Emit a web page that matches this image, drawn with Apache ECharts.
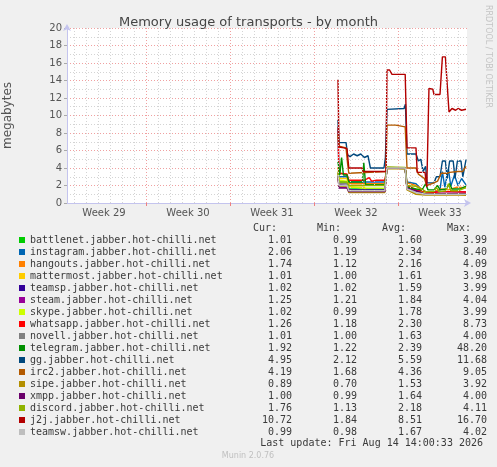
<!DOCTYPE html>
<html>
<head>
<meta charset="utf-8">
<title>Memory usage of transports - by month</title>
<script src="https://cdn.jsdelivr.net/npm/echarts@6/dist/echarts.min.js"></script>
<style>
  html, body { margin: 0; padding: 0; background: #f0f0f0; }
  #chart { width: 497px; height: 467px; }
</style>
</head>
<body>
<div id="chart"></div>
<script>
// x axis counts days, day 0 = start of week 29
const weekLabels = ['Week 29', 'Week 30', 'Week 31', 'Week 32', 'Week 33']
const weekCenters = [3.5, 10.5, 17.5, 24.5, 31.5]
const weekStarts = [7, 14, 21, 28]
const dayLines = [1, 2, 3, 4, 5, 6, 8, 9, 10, 11, 12, 13, 15, 16, 17, 18, 19, 20,
  22, 23, 24, 25, 26, 27, 29, 30, 31, 32, 33]

const names = [
  'battlenet.jabber.hot-chilli.net', 'instagram.jabber.hot-chilli.net',
  'hangouts.jabber.hot-chilli.net', 'mattermost.jabber.hot-chilli.net',
  'teamsp.jabber.hot-chilli.net', 'steam.jabber.hot-chilli.net',
  'skype.jabber.hot-chilli.net', 'whatsapp.jabber.hot-chilli.net',
  'novell.jabber.hot-chilli.net', 'telegram.jabber.hot-chilli.net',
  'gg.jabber.hot-chilli.net', 'irc2.jabber.hot-chilli.net',
  'sipe.jabber.hot-chilli.net', 'xmpp.jabber.hot-chilli.net',
  'discord.jabber.hot-chilli.net', 'j2j.jabber.hot-chilli.net',
  'teamsw.jabber.hot-chilli.net'
]
const colors = ['#00CC00', '#0066B3', '#FF8000', '#FFCC00', '#330099', '#990099',
  '#CCFF00', '#FF0000', '#808080', '#008F00', '#00487D', '#B35A00', '#B38F00',
  '#6B006B', '#8FB300', '#B30000', '#BEBEBE']

// legend table values
const curVals = ['1.01', '2.06', '1.74', '1.01', '1.02', '1.25', '1.02', '1.26', '1.01', '1.92', '4.95', '4.19', '0.89', '1.00', '1.76', '10.72', '0.99']
const minVals = ['0.99', '1.19', '1.12', '1.00', '1.02', '1.21', '0.99', '1.18', '1.00', '1.22', '2.12', '1.68', '0.70', '0.99', '1.13', '1.84', '0.98']
const avgVals = ['1.60', '2.34', '2.16', '1.61', '1.59', '1.84', '1.78', '2.30', '1.63', '2.39', '5.59', '4.36', '1.53', '1.64', '2.18', '8.51', '1.67']
const maxVals = ['3.99', '8.40', '4.09', '3.98', '3.99', '4.04', '3.99', '8.73', '4.00', '48.20', '11.68', '9.05', '3.92', '4.00', '4.11', '16.70', '4.02']

// [day, megabytes]
const battlenet = [[23.0, 3.2], [23.08, 2.4], [23.75, 2.4], [23.9, 1.6], [26.9, 1.6], [27.08, 3.99], [28.6, 3.98], [28.75, 1.7], [29.5, 1.3], [30.3, 1.1], [31.0, 1.0], [33.67, 1.01]]
const instagram = [[23.0, 8.4], [23.08, 3.0], [23.75, 3.0], [23.9, 2.4], [26.9, 2.4], [27.08, 4.0], [28.6, 4.0], [28.75, 2.4], [29.5, 2.2], [30.0, 1.5], [30.4, 1.2], [31.0, 1.3], [31.5, 1.5], [31.7, 3.6], [31.9, 1.8], [32.2, 3.9], [32.4, 1.9], [32.7, 3.2], [33.0, 2.0], [33.3, 2.8], [33.67, 2.06]]
const hangouts = [[23.0, 4.09], [23.08, 3.4], [23.75, 3.3], [23.9, 2.2], [26.9, 2.2], [27.08, 4.05], [28.6, 4.0], [28.75, 2.3], [29.5, 2.0], [30.0, 1.6], [30.4, 1.2], [31.0, 1.3], [31.6, 1.6], [32.2, 1.5], [32.9, 1.8], [33.67, 1.74]]
const mattermost = [[23.0, 3.5], [23.08, 2.8], [23.75, 2.8], [23.9, 1.8], [25.2, 1.8], [25.3, 1.4], [26.9, 1.4], [27.08, 3.98], [28.6, 3.95], [28.75, 1.7], [29.5, 1.3], [30.3, 1.05], [33.67, 1.01]]
const teamsp = [[23.0, 3.0], [23.08, 2.1], [23.75, 2.0], [23.9, 1.5], [26.9, 1.5], [27.08, 3.99], [28.6, 3.95], [28.75, 1.6], [29.5, 1.3], [30.3, 1.05], [33.67, 1.02]]
const steam = [[23.0, 3.4], [23.08, 1.8], [23.75, 1.8], [23.9, 1.5], [25.0, 1.3], [26.9, 1.3], [27.08, 4.04], [28.6, 4.0], [28.75, 1.7], [29.3, 1.5], [30.0, 1.3], [33.67, 1.25]]
const skype = [[23.0, 3.3], [23.08, 2.6], [23.75, 2.5], [23.9, 1.9], [25.0, 1.7], [26.9, 1.7], [27.08, 3.99], [28.6, 3.95], [28.75, 1.9], [29.5, 1.6], [30.3, 1.1], [31.5, 1.0], [33.67, 1.02]]
const whatsapp = [[23.0, 8.73], [23.08, 3.4], [23.75, 3.3], [23.9, 2.6], [25.2, 2.6], [25.3, 2.4], [25.6, 2.9], [25.8, 2.5], [26.2, 2.6], [26.9, 2.6], [27.08, 4.0], [28.6, 4.0], [28.75, 2.0], [29.5, 1.5], [30.3, 1.3], [31.0, 1.2], [31.6, 1.3], [32.5, 1.3], [33.67, 1.26]]
const novell = [[23.0, 3.0], [23.08, 2.2], [23.75, 2.2], [23.9, 1.4], [26.9, 1.4], [27.08, 4.0], [28.6, 4.0], [28.75, 1.6], [29.5, 1.2], [30.3, 1.0], [33.67, 1.01]]
const telegram = [[23.0, 4.7], [23.15, 3.2], [23.3, 5.2], [23.45, 3.2], [23.75, 3.2], [23.9, 2.4], [25.05, 2.4], [25.15, 4.6], [25.3, 2.1], [26.9, 2.1], [27.08, 4.0], [28.6, 4.0], [28.75, 1.8], [29.5, 1.6], [30.0, 1.5], [30.3, 2.2], [30.5, 1.5], [31.0, 1.5], [31.3, 2.0], [31.5, 1.5], [32.0, 1.6], [32.3, 2.2], [32.5, 1.6], [33.2, 1.6], [33.67, 1.92]]
const gg = [[23.0, 9.5], [23.08, 6.9], [23.67, 6.9], [23.8, 5.5], [24.0, 5.3], [24.3, 5.6], [24.6, 5.4], [24.9, 5.6], [25.2, 5.2], [25.5, 5.4], [25.7, 4.0], [26.83, 4.0], [26.95, 5.2], [27.08, 10.7], [28.5, 10.8], [28.62, 11.3], [28.75, 5.6], [29.5, 5.6], [29.7, 4.8], [29.9, 5.0], [30.1, 3.6], [30.3, 4.2], [30.42, 2.3], [31.0, 2.3], [31.2, 3.0], [31.5, 3.0], [31.7, 4.8], [31.95, 4.8], [32.1, 2.8], [32.3, 4.8], [32.6, 4.8], [32.75, 2.8], [32.95, 4.8], [33.25, 4.8], [33.4, 3.0], [33.67, 4.95]]
const irc2 = [[23.0, 7.8], [23.08, 6.5], [23.67, 6.3], [23.8, 4.5], [23.9, 3.4], [27.0, 3.6], [27.08, 8.9], [27.8, 8.9], [27.9, 8.7], [28.6, 8.7], [28.75, 4.0], [29.5, 4.0], [29.7, 3.3], [30.2, 2.8], [30.4, 2.0], [31.0, 2.3], [31.3, 2.5], [31.6, 3.4], [32.1, 3.4], [32.3, 3.5], [33.0, 3.6], [33.4, 3.6], [33.67, 4.19]]
const sipe = [[23.0, 3.0], [23.08, 1.9], [23.75, 1.9], [23.9, 1.2], [26.9, 1.2], [27.08, 3.92], [28.6, 3.9], [28.75, 1.5], [29.5, 1.0], [30.3, 0.9], [32.8, 0.9], [32.95, 0.7], [33.1, 0.9], [33.67, 0.89]]
const xmpp = [[23.0, 3.1], [23.08, 1.7], [23.75, 1.7], [23.9, 1.3], [26.9, 1.3], [27.08, 4.0], [28.6, 3.98], [28.75, 1.7], [29.5, 1.4], [30.3, 1.0], [33.67, 1.0]]
const discord = [[23.0, 3.6], [23.08, 2.4], [23.75, 2.4], [23.9, 2.0], [26.9, 2.0], [27.08, 4.11], [28.6, 4.05], [28.75, 2.0], [29.5, 1.9], [30.3, 1.3], [31.0, 1.3], [31.2, 1.8], [31.4, 1.3], [32.0, 1.4], [32.2, 2.2], [32.4, 1.4], [33.0, 1.4], [33.67, 1.76]]
const j2j = [[23.0, 14.1], [23.08, 6.4], [23.5, 6.3], [23.75, 6.2], [23.9, 4.0], [25.0, 4.0], [25.1, 3.6], [27.0, 3.6], [27.08, 15.2], [27.3, 15.2], [27.5, 14.7], [28.6, 14.7], [28.75, 6.3], [29.5, 6.3], [29.6, 3.5], [30.25, 3.5], [30.4, 1.8], [30.58, 13.1], [30.9, 13.0], [31.0, 12.4], [31.5, 12.4], [31.7, 16.7], [31.95, 16.7], [32.25, 10.4], [32.5, 10.8], [32.8, 10.6], [33.0, 10.8], [33.3, 10.6], [33.67, 10.72]]
const teamsw = [[23.0, 3.2], [23.08, 2.0], [23.75, 2.0], [23.9, 1.4], [26.9, 1.4], [27.08, 4.02], [28.6, 4.0], [28.75, 1.6], [29.5, 1.2], [30.3, 1.0], [33.67, 0.99]]

const seriesData = [battlenet, instagram, hangouts, mattermost, teamsp, steam, skype,
  whatsapp, novell, telegram, gg, irc2, sipe, xmpp, discord, j2j, teamsw]

const chart = echarts.init(document.getElementById('chart'))

const mono = 'DejaVu Sans Mono'
const sans = 'DejaVu Sans'

const series = [
  // daily and weekly vertical grid lines
  {
    type: 'line',
    data: [],
    z: 1,
    markLine: {
      silent: true,
      symbol: 'none',
      label: { show: false },
      lineStyle: { color: '#d4d4d4', type: [1, 2], width: 1 },
      data: dayLines.map(d => ({ xAxis: d }))
    }
  },
  {
    type: 'line',
    data: [],
    z: 1,
    markLine: {
      silent: true,
      symbol: 'none',
      label: { show: false },
      lineStyle: { color: '#f0a0a0', type: [1, 2], width: 1 },
      data: weekStarts.map(d => ({ xAxis: d }))
    }
  }
]
names.forEach((n, i) => {
  series.push({
    name: n,
    type: 'line',
    data: seriesData[i],
    showSymbol: false,
    z: 2,
    color: colors[i],
    lineStyle: { width: 1.4, color: colors[i] }
  })
})

const option = {
  animation: false,
  backgroundColor: '#f0f0f0',
  title: {
    text: 'Memory usage of transports - by month',
    left: 'center',
    top: 11,
    textStyle: { fontFamily: sans, fontSize: 13, fontWeight: 'normal', color: '#444' }
  },
  grid: {
    left: 67,
    top: 28,
    width: 400,
    height: 175,
    outerBoundsMode: 'none',
    containLabel: false,
    show: true,
    backgroundColor: '#ffffff',
    borderWidth: 0
  },
  xAxis: {
    type: 'value',
    min: 5 / 12,
    max: 405 / 12,
    axisLine: {
      lineStyle: { color: '#c4c4ee' },
      symbol: ['none', 'arrow'],
      symbolSize: [6, 7],
      symbolOffset: [0, 4]
    },
    axisTick: { customValues: weekStarts, length: 3, lineStyle: { color: '#ee8080' } },
    axisLabel: {
      customValues: weekCenters,
      formatter: v => weekLabels[weekCenters.indexOf(v)],
      margin: 5,
      fontFamily: sans,
      fontSize: 10,
      color: '#555'
    },
    splitLine: { show: false }
  },
  yAxis: {
    type: 'value',
    min: 0,
    max: 20,
    interval: 2,
    name: 'megabytes',
    nameLocation: 'middle',
    nameGap: 53,
    nameTextStyle: { fontFamily: sans, fontSize: 12, color: '#555' },
    axisLine: {
      show: true,
      lineStyle: { color: '#c4c4ee' },
      symbol: ['none', 'arrow'],
      symbolSize: [6, 7],
      symbolOffset: [0, 4]
    },
    axisTick: { show: true, length: 3, lineStyle: { color: '#aaa' } },
    axisLabel: { margin: 5, fontFamily: sans, fontSize: 10, color: '#555' },
    splitLine: { lineStyle: { color: '#f0a0a0', type: [1, 2] } },
    minorTick: { show: false, splitNumber: 2 },
    minorSplitLine: { show: true, lineStyle: { color: '#d4d4d4', type: [1, 2] } }
  },
  legend: {
    orient: 'vertical',
    left: 14,
    top: 229,
    itemWidth: 6,
    itemHeight: 6,
    itemGap: 0,
    itemTextGap: 6,
    icon: 'rect',
    selectedMode: false,
    data: names,
    itemStyle: { borderWidth: 0 },
    textStyle: {
      fontFamily: mono,
      fontSize: 10,
      lineHeight: 12,
      color: '#3a3a3a',
      rich: {
        n: { width: 212, fontFamily: mono, fontSize: 10, color: '#3a3a3a' },
        c: { width: 50, align: 'right', fontFamily: mono, fontSize: 10, color: '#3a3a3a' },
        m: { width: 65, align: 'right', fontFamily: mono, fontSize: 10, color: '#3a3a3a' },
        a: { width: 65, align: 'right', fontFamily: mono, fontSize: 10, color: '#3a3a3a' },
        x: { width: 65, align: 'right', fontFamily: mono, fontSize: 10, color: '#3a3a3a' }
      }
    },
    formatter: name => {
      const i = names.indexOf(name)
      return '{n|' + name + '}{c|' + curVals[i] + '}{m|' + minVals[i] + '}{a|' + avgVals[i] + '}{x|' + maxVals[i] + '}'
    }
  },
  graphic: [
    { type: 'text', x: 253, y: 228, style: { text: 'Cur:', font: '10px "DejaVu Sans Mono"', fill: '#3a3a3a', verticalAlign: 'middle' } },
    { type: 'text', x: 317, y: 228, style: { text: 'Min:', font: '10px "DejaVu Sans Mono"', fill: '#3a3a3a', verticalAlign: 'middle' } },
    { type: 'text', x: 382, y: 228, style: { text: 'Avg:', font: '10px "DejaVu Sans Mono"', fill: '#3a3a3a', verticalAlign: 'middle' } },
    { type: 'text', x: 447, y: 228, style: { text: 'Max:', font: '10px "DejaVu Sans Mono"', fill: '#3a3a3a', verticalAlign: 'middle' } },
    { type: 'text', x: 483, y: 443, style: { text: 'Last update: Fri Aug 14 14:00:33 2026', font: '10px "DejaVu Sans Mono"', fill: '#3a3a3a', align: 'right', verticalAlign: 'middle' } },
    { type: 'text', x: 248, y: 456, style: { text: 'Munin 2.0.76', font: '8px "DejaVu Sans"', fill: '#c0c0c0', align: 'center', verticalAlign: 'middle' } },
    { type: 'text', x: 488, y: 5, rotation: -Math.PI / 2, style: { text: 'RRDTOOL / TOBI OETIKER', font: '8px "DejaVu Sans"', fill: '#c4c4c4', align: 'left', verticalAlign: 'middle' } }
  ],
  series: series
}

chart.setOption(option)
</script>
</body>
</html>
